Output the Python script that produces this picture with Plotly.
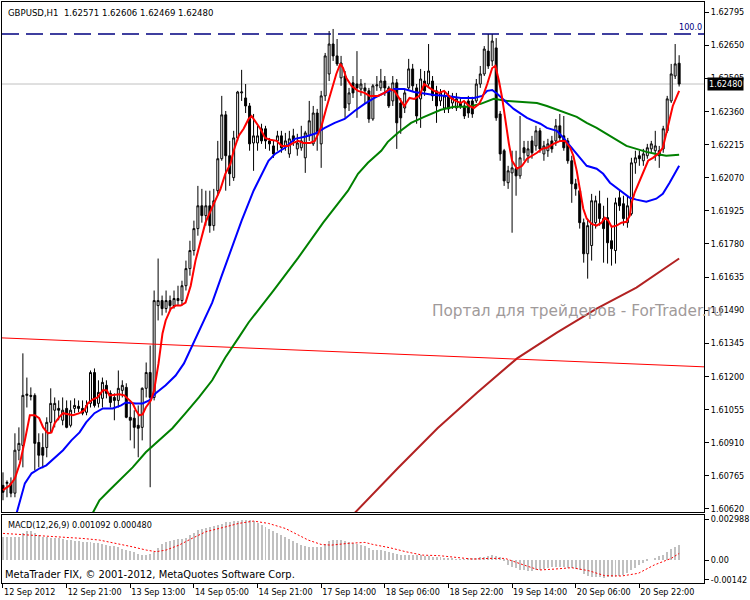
import plotly.graph_objects as go

# GBPUSD H1 candles, bar index 0..170
opens = [
    1.60723, 1.60732, 1.60732, 1.60689, 1.60877, 1.60898, 1.61117, 1.61117, 1.61117, 1.60911,
    1.60889, 1.60889, 1.60999, 1.61052, 1.61060, 1.61008, 1.61060, 1.60986, 1.61060, 1.61069,
    1.61060, 1.61043, 1.61082, 1.61217, 1.61082, 1.61104, 1.61161, 1.61126, 1.61108, 1.61095,
    1.61139, 1.61152, 1.61021, 1.61017, 1.60986, 1.60977, 1.61148, 1.61217, 1.61108, 1.61510,
    1.61532, 1.61497, 1.61532, 1.61510, 1.61541, 1.61532, 1.61597, 1.61672, 1.61751, 1.61847,
    1.61947, 1.61904, 1.61947, 1.61860, 1.62013, 1.62153, 1.62345, 1.62166, 1.62070, 1.62244,
    1.62441, 1.62419, 1.62384, 1.62222, 1.62222, 1.62284, 1.62284, 1.62231, 1.62209, 1.62231,
    1.62253, 1.62209, 1.62174, 1.62253, 1.62196, 1.62201, 1.62157, 1.62253, 1.62218, 1.62353,
    1.62218, 1.62428, 1.62524, 1.62655, 1.62603, 1.62507, 1.62515, 1.62393, 1.62485, 1.62480,
    1.62458, 1.62463, 1.62450, 1.62327, 1.62472, 1.62463, 1.62493, 1.62463, 1.62406, 1.62485,
    1.62397, 1.62375, 1.62463, 1.62546, 1.62463, 1.62415, 1.62493, 1.62480, 1.62493, 1.62450,
    1.62406, 1.62375, 1.62428, 1.62397, 1.62375, 1.62397, 1.62384, 1.62406, 1.62406, 1.62406,
    1.62480, 1.62524, 1.62624, 1.62581, 1.62638, 1.62349, 1.62188, 1.62048, 1.62091, 1.62109,
    1.62078, 1.62201, 1.62166, 1.62231, 1.62209, 1.62275, 1.62174, 1.62188, 1.62231, 1.62231,
    1.62297, 1.62253, 1.62231, 1.62144, 1.62043, 1.62013, 1.61873, 1.61737, 1.61773, 1.61873,
    1.61956, 1.61891, 1.61895, 1.61794, 1.61751, 1.61982, 1.61956, 1.61873, 1.61912, 1.62135,
    1.62166, 1.62144, 1.62166, 1.62196, 1.62188, 1.62188, 1.62196, 1.62275, 1.62406, 1.62515,
    1.62571,
]
highs = [
    1.60780, 1.60745, 1.60758, 1.60951, 1.60977, 1.61301, 1.61195, 1.61152, 1.61126, 1.60951,
    1.60951, 1.61021, 1.61148, 1.61108, 1.61095, 1.61108, 1.61095, 1.61095, 1.61104, 1.61095,
    1.61095, 1.61095, 1.61226, 1.61235, 1.61183, 1.61195, 1.61183, 1.61139, 1.61126, 1.61226,
    1.61183, 1.61170, 1.61095, 1.61052, 1.61073, 1.61152, 1.61261, 1.61335, 1.61576, 1.61716,
    1.61554, 1.61576, 1.61554, 1.61576, 1.61597, 1.61619, 1.61707, 1.61794, 1.61882, 1.62034,
    1.62021, 1.62013, 1.62013, 1.62021, 1.62231, 1.62428, 1.62362, 1.62231, 1.62275, 1.62450,
    1.62542, 1.62480, 1.62397, 1.62349, 1.62297, 1.62306, 1.62297, 1.62244, 1.62231, 1.62275,
    1.62275, 1.62266, 1.62275, 1.62284, 1.62262, 1.62297, 1.62275, 1.62406, 1.62384, 1.62371,
    1.62450, 1.62616, 1.62712, 1.62721, 1.62677, 1.62603, 1.62537, 1.62463, 1.62515, 1.62624,
    1.62502, 1.62485, 1.62463, 1.62480, 1.62515, 1.62546, 1.62515, 1.62472, 1.62515, 1.62502,
    1.62419, 1.62458, 1.62590, 1.62568, 1.62480, 1.62546, 1.62537, 1.62655, 1.62515, 1.62472,
    1.62458, 1.62450, 1.62450, 1.62441, 1.62441, 1.62415, 1.62406, 1.62428, 1.62424, 1.62502,
    1.62559, 1.62646, 1.62699, 1.62699, 1.62681, 1.62362, 1.62196, 1.62122, 1.62188, 1.62188,
    1.62340, 1.62231, 1.62231, 1.62253, 1.62297, 1.62288, 1.62231, 1.62240, 1.62253, 1.62327,
    1.62349, 1.62340, 1.62244, 1.62166, 1.62065, 1.62026, 1.61891, 1.61891, 1.61999, 1.61991,
    1.62013, 1.61947, 1.61982, 1.61860, 1.61982, 1.62013, 1.61991, 1.61991, 1.62157, 1.62188,
    1.62188, 1.62196, 1.62218, 1.62231, 1.62275, 1.62209, 1.62297, 1.62428, 1.62568, 1.62655,
    1.62606,
]
lows = [
    1.60658, 1.60671, 1.60671, 1.60671, 1.60833, 1.60802, 1.61064, 1.61095, 1.60789, 1.60802,
    1.60798, 1.60846, 1.60951, 1.60977, 1.61008, 1.60986, 1.60973, 1.60977, 1.61039, 1.61043,
    1.61030, 1.61030, 1.61064, 1.61064, 1.61064, 1.61064, 1.61104, 1.61064, 1.61008, 1.61064,
    1.61108, 1.61017, 1.60920, 1.60885, 1.60846, 1.60920, 1.61108, 1.60715, 1.61095, 1.61445,
    1.61467, 1.61479, 1.61488, 1.61497, 1.61510, 1.61510, 1.61576, 1.61641, 1.61729, 1.61816,
    1.61873, 1.61860, 1.61829, 1.61838, 1.61991, 1.62144, 1.62013, 1.62034, 1.62056, 1.62231,
    1.62406, 1.62353, 1.62188, 1.62100, 1.62188, 1.62218, 1.62196, 1.62188, 1.62157, 1.62188,
    1.62179, 1.62188, 1.62157, 1.62209, 1.62166, 1.62188, 1.62091, 1.62231, 1.62209, 1.62188,
    1.62113, 1.62406, 1.62493, 1.62581, 1.62559, 1.62472, 1.62332, 1.62362, 1.62419, 1.62332,
    1.62428, 1.62393, 1.62310, 1.62319, 1.62450, 1.62450, 1.62428, 1.62375, 1.62384, 1.62196,
    1.62262, 1.62353, 1.62450, 1.62450, 1.62306, 1.62288, 1.62428, 1.62463, 1.62406, 1.62310,
    1.62384, 1.62353, 1.62353, 1.62371, 1.62362, 1.62371, 1.62327, 1.62332, 1.62332, 1.62397,
    1.62463, 1.62515, 1.62546, 1.62559, 1.62319, 1.62144, 1.62034, 1.62021, 1.61829, 1.61991,
    1.62065, 1.62144, 1.62135, 1.62153, 1.62188, 1.62179, 1.62144, 1.62161, 1.62179, 1.62209,
    1.62231, 1.62188, 1.62131, 1.61960, 1.61991, 1.61847, 1.61698, 1.61628, 1.61707, 1.61847,
    1.61860, 1.61698, 1.61694, 1.61685, 1.61694, 1.61925, 1.61860, 1.61851, 1.61904, 1.62087,
    1.62122, 1.62122, 1.62153, 1.62179, 1.62144, 1.62113, 1.62179, 1.62266, 1.62397, 1.62502,
    1.62469,
]
closes = [
    1.60693, 1.60736, 1.60689, 1.60877, 1.60907, 1.61117, 1.61122, 1.61113, 1.60907, 1.60855,
    1.60855, 1.60999, 1.61082, 1.61082, 1.61052, 1.61052, 1.60977, 1.61052, 1.61073, 1.61060,
    1.61039, 1.61073, 1.61217, 1.61073, 1.61130, 1.61174, 1.61126, 1.61086, 1.61095, 1.61148,
    1.61161, 1.61021, 1.61008, 1.60977, 1.60973, 1.61148, 1.61217, 1.61108, 1.61532, 1.61532,
    1.61497, 1.61532, 1.61510, 1.61541, 1.61532, 1.61597, 1.61672, 1.61751, 1.61847, 1.61947,
    1.61904, 1.61947, 1.61860, 1.61969, 1.62153, 1.62345, 1.62166, 1.62087, 1.62244, 1.62445,
    1.62445, 1.62384, 1.62218, 1.62253, 1.62253, 1.62231, 1.62231, 1.62218, 1.62174, 1.62253,
    1.62201, 1.62231, 1.62240, 1.62231, 1.62222, 1.62231, 1.62266, 1.62319, 1.62353, 1.62262,
    1.62428, 1.62603, 1.62655, 1.62603, 1.62568, 1.62572, 1.62375, 1.62441, 1.62441, 1.62463,
    1.62480, 1.62450, 1.62327, 1.62472, 1.62476, 1.62493, 1.62463, 1.62384, 1.62485, 1.62310,
    1.62332, 1.62441, 1.62546, 1.62472, 1.62340, 1.62502, 1.62450, 1.62537, 1.62428, 1.62384,
    1.62441, 1.62428, 1.62371, 1.62419, 1.62415, 1.62384, 1.62340, 1.62353, 1.62349, 1.62480,
    1.62524, 1.62633, 1.62559, 1.62668, 1.62332, 1.62174, 1.62056, 1.62100, 1.62113, 1.62078,
    1.62157, 1.62179, 1.62196, 1.62179, 1.62275, 1.62196, 1.62209, 1.62218, 1.62196, 1.62297,
    1.62244, 1.62201, 1.62144, 1.62043, 1.62021, 1.61873, 1.61737, 1.61860, 1.61969, 1.61969,
    1.61891, 1.61847, 1.61785, 1.61759, 1.61960, 1.61947, 1.61891, 1.61947, 1.62135, 1.62157,
    1.62153, 1.62174, 1.62201, 1.62218, 1.62209, 1.62166, 1.62284, 1.62415, 1.62524, 1.62568,
    1.62480,
]
bars = list(range(len(closes)))

# moving averages (bar position, price)
fast_ma_pos = [0, 1.75, 3, 4.25, 5.5, 6.75, 8, 9.1, 10.1, 11.3, 12.2, 13, 14.1, 15.1, 17.6, 19.25,
               20.5, 21.3, 22.6, 23.8, 25.1, 26.1, 26.75, 29.25, 30.5, 31.75, 32.6, 33.4, 34.25,
               35.1, 35.9, 37.2, 38, 39.1, 40.1, 40.9, 42.2, 43.4, 44.7, 45.9, 47.2, 48.4, 49.7,
               50.9, 52.2, 53.4, 54.7, 55.9, 57.2, 58, 59.25, 60.5, 61.75, 62.5, 63.75, 64.7, 65.9,
               67.2, 68.8, 70.1, 71.75, 73, 74.25, 75.5, 77.2, 78.4, 79.25, 80.1, 81.3, 82.6, 83.8,
               84.8, 85.5, 86.3, 87.6, 89.25, 90.9, 92.2, 94.25, 95.9, 97.2, 98.4, 99.7, 100.9,
               102.2, 103.4, 104.7, 105.9, 107.2, 108.4, 109.7, 110.9, 112.6, 113.8, 115.1, 115.9,
               117.2, 118.4, 119.7, 120.5, 121.75, 123, 123.8, 124.7, 125.5, 126.3, 127.2, 128,
               129.25, 130.5, 131.75, 133, 134.25, 135.5, 136.75, 138.4, 140.1, 141.3, 142.6, 143.4,
               144.25, 145.1, 145.9, 146.75, 148, 149.25, 150.5, 151.3, 152.2, 153, 154.25, 155.5,
               156.75, 157.6, 158, 158.8, 160.1, 161.3, 162.2, 163.4, 164.7, 165.9, 166.75, 167.6,
               168.4, 169.25, 170]
fast_ma_val = [1.60702, 1.60723, 1.60754, 1.60820, 1.60920, 1.61030, 1.61030, 1.61017, 1.60977,
               1.60951, 1.60955, 1.60995, 1.61021, 1.61039, 1.61030, 1.61039, 1.61052, 1.61082,
               1.61100, 1.61108, 1.61139, 1.61139, 1.61117, 1.61122, 1.61117, 1.61095, 1.61082,
               1.61052, 1.61030, 1.61034, 1.61064, 1.61095, 1.61139, 1.61257, 1.61388, 1.61445,
               1.61497, 1.61510, 1.61510, 1.61523, 1.61597, 1.61707, 1.61794, 1.61873, 1.61925,
               1.61969, 1.62021, 1.62087, 1.62131, 1.62188, 1.62253, 1.62284, 1.62327, 1.62340,
               1.62306, 1.62284, 1.62244, 1.62236, 1.62231, 1.62209, 1.62209, 1.62222, 1.62231,
               1.62222, 1.62222, 1.62231, 1.62262, 1.62297, 1.62375, 1.62450, 1.62524, 1.62568,
               1.62550, 1.62507, 1.62472, 1.62450, 1.62441, 1.62428, 1.62428, 1.62441, 1.62458,
               1.62450, 1.62415, 1.62384, 1.62419, 1.62415, 1.62428, 1.62480, 1.62463, 1.62450,
               1.62441, 1.62450, 1.62419, 1.62406, 1.62397, 1.62406, 1.62384, 1.62375, 1.62393,
               1.62419, 1.62480, 1.62550, 1.62559, 1.62493, 1.62419, 1.62319, 1.62218, 1.62144,
               1.62109, 1.62122, 1.62153, 1.62166, 1.62179, 1.62196, 1.62201, 1.62218, 1.62231,
               1.62231, 1.62201, 1.62166, 1.62100, 1.62013, 1.61934, 1.61891, 1.61868, 1.61860,
               1.61873, 1.61895, 1.61882, 1.61855, 1.61860, 1.61873, 1.61877, 1.61904, 1.61956,
               1.62004, 1.62056, 1.62109, 1.62144, 1.62157, 1.62174, 1.62201, 1.62262, 1.62327,
               1.62384, 1.62419, 1.62450]

mid_ma_pos = [3.4, 4.25, 5.5, 7.2, 9.25, 10.9, 13, 15.1, 17.2, 19.25, 20.9, 23, 25.1, 27.6, 29.7,
              30.9, 33.4, 35.1, 36.75, 38.4, 40.9, 43.4, 45.5, 47.6, 49.25, 51.3, 52.6, 55, 57.5,
              60, 63, 64.7, 66.75, 68.4, 70.9, 73.4, 75.9, 78.4, 80.9, 83.4, 85.9, 88.4, 90.9,
              93.4, 95.9, 98.4, 100.9, 103.4, 105.9, 108.4, 111.75, 115.1, 118.4, 120.5, 121.75,
              123, 124.25, 125.5, 126.75, 128.4, 130.1, 131.75, 133.4, 135.1, 136.75, 139.25,
              140.9, 142.6, 144.25, 146.75, 149.25, 150.9, 152.6, 154.25, 155.9, 157.6, 159.25,
              161.75, 164.25, 165.9, 167.6, 169.25, 170]
mid_ma_val = [1.60600, 1.60658, 1.60732, 1.60776, 1.60798, 1.60811, 1.60842, 1.60877, 1.60920,
              1.60955, 1.60999, 1.61039, 1.61060, 1.61060, 1.61073, 1.61086, 1.61082, 1.61082,
              1.61095, 1.61126, 1.61161, 1.61204, 1.61257, 1.61335, 1.61401, 1.61475, 1.61523,
              1.61641, 1.61759, 1.61882, 1.62013, 1.62070, 1.62144, 1.62174, 1.62201, 1.62240,
              1.62249, 1.62262, 1.62288, 1.62310, 1.62327, 1.62362, 1.62393, 1.62419, 1.62441,
              1.62458, 1.62458, 1.62445, 1.62437, 1.62432, 1.62428, 1.62419, 1.62419, 1.62428,
              1.62450, 1.62454, 1.62437, 1.62419, 1.62397, 1.62371, 1.62353, 1.62332, 1.62319,
              1.62306, 1.62288, 1.62275, 1.62244, 1.62209, 1.62174, 1.62122, 1.62109, 1.62087,
              1.62048, 1.62026, 1.62004, 1.61982, 1.61974, 1.61965, 1.61978, 1.61999, 1.62048,
              1.62100, 1.62122]

slow_ma_pos = [22.25, 24.25, 26.75, 29.25, 32.6, 35.9, 39.25, 42.6, 45.9, 49.25, 52.6, 55.9,
               59.25, 61.75, 68, 74.25, 80.5, 86.75, 89.25, 91.75, 95.1, 96.75, 99.25, 102.6,
               105.9, 110.1, 113.4, 116.75, 120.1, 123.4, 126.75, 131.75, 134.25, 136.75, 139.25,
               141.75, 144.25, 146.75, 149.25, 151.75, 154.25, 156.75, 159.25, 161.75, 164.25,
               166.75, 170]
slow_ma_val = [1.60592, 1.60658, 1.60702, 1.60745, 1.60802, 1.60868, 1.60920, 1.60973, 1.61039,
               1.61108, 1.61183, 1.61283, 1.61370, 1.61436, 1.61576, 1.61720, 1.61873, 1.62013,
               1.62087, 1.62135, 1.62188, 1.62227, 1.62266, 1.62310, 1.62336, 1.62367, 1.62380,
               1.62380, 1.62393, 1.62415, 1.62406, 1.62402, 1.62397, 1.62384, 1.62367, 1.62353,
               1.62336, 1.62310, 1.62288, 1.62262, 1.62236, 1.62209, 1.62196, 1.62183, 1.62174,
               1.62166, 1.62170]

long_ma_pos = [87.25, 99.25, 109.25, 119.25, 129.25, 139.25, 149.25, 159.25, 170]
long_ma_val = [1.60581, 1.60798, 1.60973, 1.61130, 1.61279, 1.61392, 1.61497, 1.61589, 1.61716]

trend_pos = [-0.75, 176.25]
trend_val = [1.61369, 1.61242]

fibo_level = 1.62699
last_price = 1.62480

# MACD(12,26,9): main as histogram, signal as dotted line
macd_main = [
    0.00170, 0.00168, 0.00165, 0.00165, 0.00170, 0.00195, 0.00210, 0.00212, 0.00200, 0.00180,
    0.00170, 0.00165, 0.00162, 0.00160, 0.00158, 0.00152, 0.00146, 0.00142, 0.00138, 0.00136,
    0.00134, 0.00132, 0.00130, 0.00126, 0.00122, 0.00116, 0.00110, 0.00104, 0.00100, 0.00092,
    0.00082, 0.00073, 0.00065, 0.00057, 0.00045, 0.00039, 0.00036, 0.00040, 0.00061, 0.00090,
    0.00115, 0.00134, 0.00140, 0.00145, 0.00150, 0.00155, 0.00158, 0.00180, 0.00200, 0.00217,
    0.00225, 0.00232, 0.00240, 0.00247, 0.00255, 0.00265, 0.00275, 0.00279, 0.00283, 0.00288,
    0.00292, 0.00294, 0.00290, 0.00284, 0.00270, 0.00255, 0.00242, 0.00228, 0.00212, 0.00200,
    0.00185, 0.00170, 0.00155, 0.00140, 0.00125, 0.00112, 0.00102, 0.00096, 0.00091, 0.00093,
    0.00097, 0.00118, 0.00138, 0.00145, 0.00146, 0.00146, 0.00140, 0.00132, 0.00126, 0.00120,
    0.00110, 0.00100, 0.00088, 0.00073, 0.00072, 0.00070, 0.00064, 0.00056, 0.00049, 0.00042,
    0.00038, 0.00036, 0.00036, 0.00036, 0.00034, 0.00033, 0.00030, 0.00027, 0.00024, 0.00021,
    0.00018, 0.00015, 0.00011, 0.00007, 0.00006, 0.00005, 0.00006, 0.00009, 0.00012, 0.00015,
    0.00018, 0.00024, 0.00030, 0.00036, 0.00030, 0.00018, -0.00008, -0.00035, -0.00049, -0.00062,
    -0.00073, -0.00077, -0.00078, -0.00078, -0.00076, -0.00072, -0.00063, -0.00058, -0.00055,
    -0.00054, -0.00054, -0.00054, -0.00057, -0.00061, -0.00067, -0.00076, -0.00100, -0.00115,
    -0.00122, -0.00125, -0.00127, -0.00129, -0.00128, -0.00127, -0.00124, -0.00121, -0.00111,
    -0.00095, -0.00073, -0.00058, -0.00040, -0.00020, -0.00008, 0.00000, 0.00015, 0.00026,
    0.00038, 0.00055, 0.00078, 0.00092, 0.00109,
]
signal_pos = [0, 7.5, 16, 20, 24.25, 28.5, 32.5, 36, 38.5, 41, 44.25, 47.5, 51, 56, 59.25, 63,
              66.75, 71, 74.25, 76.75, 80, 82.5, 86.75, 91, 93, 97.25, 101.25, 105.5, 109.75,
              113.75, 118, 122.25, 126.25, 130.5, 134.75, 138.75, 143, 147.25, 151.25, 155.5,
              159.75, 163.75, 168, 170]
signal_val = [0.00195, 0.00182, 0.00170, 0.00158, 0.00146, 0.00122, 0.00097, 0.00073, 0.00061,
              0.00073, 0.00109, 0.00158, 0.00207, 0.00243, 0.00268, 0.00285, 0.00268, 0.00231,
              0.00182, 0.00146, 0.00114, 0.00109, 0.00122, 0.00129, 0.00114, 0.00090, 0.00061,
              0.00036, 0.00032, 0.00019, 0.00007, 0.00012, 0.00012, -0.00032, -0.00073, -0.00066,
              -0.00056, -0.00078, -0.00114, -0.00117, -0.00097, -0.00036, 0.00012, 0.00048]

price_ticks = [1.60620, 1.60765, 1.60910, 1.61055, 1.61200, 1.61345, 1.61490, 1.61635, 1.61780,
               1.61925, 1.62070, 1.62215, 1.62360, 1.62505, 1.62650, 1.62795]
macd_ticks = [0.002988, 0.0, -0.00142]
macd_tick_text = ["0.002988", "0.00", "-0.00142"]
time_tick_pos = [0, 16, 32, 48, 64, 80, 96, 112, 128, 144, 160]
time_tick_text = ["12 Sep 2012", "12 Sep 21:00", "13 Sep 13:00", "14 Sep 05:00", "14 Sep 21:00",
                  "17 Sep 14:00", "18 Sep 06:00", "18 Sep 22:00", "19 Sep 14:00", "20 Sep 06:00",
                  "20 Sep 22:00"]

FONT = "DejaVu Sans Condensed, Liberation Sans, sans-serif"

fig = go.Figure()

fig.add_trace(go.Scatter(x=long_ma_pos, y=long_ma_val, mode="lines",
                         line=dict(color="#b22222", width=2)))
fig.add_trace(go.Scatter(x=trend_pos, y=trend_val, mode="lines",
                         line=dict(color="#ff0000", width=1)))
fig.add_trace(go.Candlestick(
    x=bars, open=opens, high=highs, low=lows, close=closes,
    increasing=dict(line=dict(color="black", width=1), fillcolor="white"),
    decreasing=dict(line=dict(color="black", width=1), fillcolor="black"),
    whiskerwidth=0,
))
fig.add_trace(go.Scatter(x=slow_ma_pos, y=slow_ma_val, mode="lines",
                         line=dict(color="#008000", width=2)))
fig.add_trace(go.Scatter(x=mid_ma_pos, y=mid_ma_val, mode="lines",
                         line=dict(color="#0000ff", width=2)))
fig.add_trace(go.Scatter(x=fast_ma_pos, y=fast_ma_val, mode="lines",
                         line=dict(color="#ff0000", width=2)))

fig.add_trace(go.Bar(x=bars, y=macd_main, width=0.25, marker=dict(color="#c0c0c0", line_width=0),
                     xaxis="x2", yaxis="y2"))
fig.add_trace(go.Scatter(x=signal_pos, y=signal_val, mode="lines",
                         line=dict(color="#ff0000", width=1, dash="2px,2px"),
                         xaxis="x2", yaxis="y2"))

fig.add_shape(type="line", xref="x domain", yref="y", x0=0, x1=1, y0=last_price, y1=last_price,
              line=dict(color="#c0c0c0", width=1), layer="below")
fig.add_shape(type="line", xref="x domain", yref="y", x0=0, x1=1, y0=fibo_level, y1=fibo_level,
              line=dict(color="#000080", width=1.5, dash="17px,7px"))

fig.add_annotation(text="GBPUSD,H1  1.62571 1.62606 1.62469 1.62480", xref="x domain",
                   yref="y domain", x=0.006, y=0.98, xanchor="left", yanchor="middle",
                   showarrow=False, font=dict(size=9.5, color="black"))
fig.add_annotation(text="100.0", xref="x domain", yref="y", x=1, y=fibo_level, xanchor="right",
                   yanchor="bottom", showarrow=False, font=dict(size=9, color="#000080"))
fig.add_annotation(text="Портал для трейдеров - ForTrader.ru", xref="x domain", yref="y",
                   x=0.61, y=1.61488, xanchor="left", yanchor="middle", showarrow=False,
                   font=dict(family="DejaVu Sans, sans-serif", size=15.3, color="#a09a9a"))
fig.add_annotation(text="1.62480", xref="x domain", yref="y", x=1, y=last_price, xanchor="left",
                   yanchor="middle", xshift=3, showarrow=False, bgcolor="black", borderpad=1,
                   font=dict(size=9, color="white"))
fig.add_annotation(text="MACD(12,26,9) 0.001092 0.000480", xref="x2 domain", yref="y2 domain",
                   x=0.006, y=0.86, xanchor="left", yanchor="middle", showarrow=False,
                   font=dict(size=9, color="black"))
fig.add_annotation(text="MetaTrader FIX, © 2001-2012, MetaQuotes Software Corp.",
                   xref="x2 domain", yref="y2 domain", x=0.002, y=0.12, xanchor="left",
                   yanchor="middle", showarrow=False, font=dict(size=11, color="black"))

axis_line = dict(showline=True, linecolor="black", linewidth=1, mirror=True, showgrid=False,
                 zeroline=False)

fig.update_layout(
    width=750, height=600,
    margin=dict(l=2, r=42, t=1, b=17),
    paper_bgcolor="white", plot_bgcolor="white",
    showlegend=False, hovermode=False, bargap=0,
    font=dict(family=FONT, size=9, color="black"),
    xaxis=dict(domain=[0, 1], anchor="y", range=[-0.25, 176.25], showticklabels=False,
               ticks="", rangeslider=dict(visible=False), **axis_line),
    yaxis=dict(domain=[0.122, 1], anchor="x", side="right", range=[1.60606, 1.62839],
               tickvals=price_ticks, tickformat=".5f", ticks="outside", ticklen=4,
               tickcolor="black", **axis_line),
    xaxis2=dict(domain=[0, 1], anchor="y2", matches="x", range=[-0.25, 176.25],
                tickvals=time_tick_pos, ticktext=time_tick_text, ticks="outside", ticklen=4,
                tickcolor="black", ticklabelposition="outside right", **axis_line),
    yaxis2=dict(domain=[0, 0.1168], anchor="x2", side="right", range=[-0.00168, 0.003285],
                tickvals=macd_ticks, ticktext=macd_tick_text, ticks="outside", ticklen=4,
                tickcolor="black", **axis_line),
)

# the page's default body margin would shift the 750x600 figure out of the window
fig.write_html("out.html", config={"displayModeBar": False},
               post_script="document.body.style.margin = '0';")
